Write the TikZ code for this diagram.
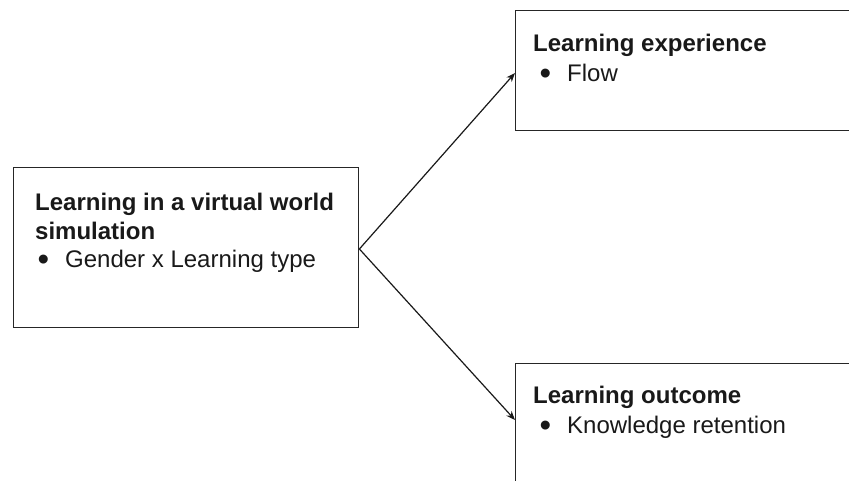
\documentclass[tikz,border=0pt]{standalone}
\usepackage{fontspec}
\setmainfont{Liberation Sans}
\usetikzlibrary{arrows.meta}
\newcommand{\bigbul}{\makebox[26pt][l]{\hspace{-1.5pt}\raisebox{-3pt}{\fontsize{33}{28}\selectfont\textbullet}}}
\begin{document}
\begin{tikzpicture}[x=1pt,y=-1pt,
  box/.style={draw=black!85, line width=1.4pt, rectangle, inner sep=0pt, anchor=north west},
  txt/.style={inner sep=0pt, anchor=base west, text=black!90, font=\fontsize{24}{28}\selectfont},
  head/.style={txt, font=\fontsize{24}{28}\selectfont\bfseries},
  arr/.style={draw=black!90, line width=1.2pt, -{Stealth[length=9pt,width=7pt]}}]
\useasboundingbox (0,0) rectangle (849,481);
\begin{scope}
\clip (0,0) rectangle (849,481);
\node[box, minimum width=345pt, minimum height=160pt] (left) at (13,167) {};
\node[box, minimum width=400pt, minimum height=120pt] (exp) at (515,10) {};
\node[box, minimum width=400pt, minimum height=160pt] (out) at (515,363) {};
\end{scope}
\node[head] (l1) at (35,211) {Learning in a virtual world};
\node[head] (l2) at (35,240) {simulation};
\node[txt] (l3) at (39,268) {\bigbul Gender x Learning type};
\node[head] (e1) at (533,52) {Learning experience};
\node[txt] (e2) at (541,82) {\bigbul Flow};
\node[head] (o1) at (533,403) {Learning outcome};
\node[txt] (o2) at (541,433) {\bigbul Knowledge retention};
\coordinate (expin) at ([yshift=-63pt]exp.north west);
\coordinate (outin) at ([yshift=-57pt]out.north west);
\coordinate (src) at ([yshift=-82pt]left.north east);
\draw[arr] (src) -- (expin);
\draw[arr] (src) -- (outin);
\end{tikzpicture}
\end{document}
